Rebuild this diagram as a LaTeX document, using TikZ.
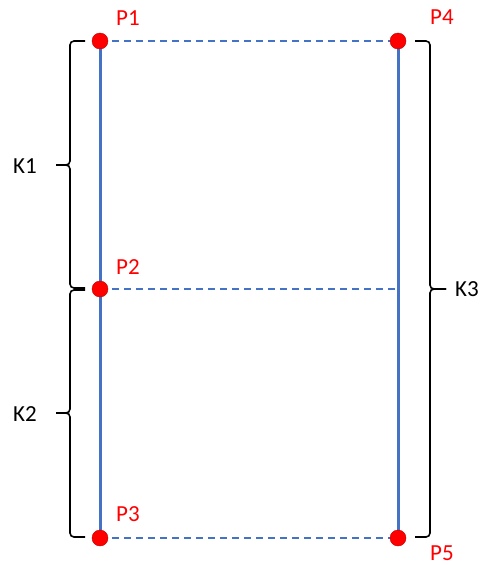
\documentclass[tikz,border=0pt]{standalone}
\usepackage{fontspec}
\setmainfont{Carlito}
\usetikzlibrary{backgrounds}

\definecolor{lineblue}{HTML}{4472C4}
\tikzset{
  dot/.style={circle, fill=red, draw=red!75!black, line width=0.4pt, minimum size=16pt, inner sep=0pt},
  ptlabel/.style={text=red, font=\fontsize{23}{27}\selectfont, inner sep=0pt},
  klabel/.style={text=black, font=\fontsize{23}{27}\selectfont, inner sep=0pt},
  solidline/.style={lineblue, line width=3pt},
  dashline/.style={lineblue, line width=1.5pt, dash pattern=on 7pt off 5pt},
  bracepart/.style={black, line width=1.6pt, rounded corners=4pt},
}

\begin{document}
\begin{tikzpicture}[x=1pt, y=-1pt]
  \useasboundingbox (0,0) rectangle (480,565);
  % points
  \node[dot] (P1) at (100,41) {};
  \node[dot] (P2) at (100,289) {};
  \node[dot] (P3) at (100,538) {};
  \node[dot] (P4) at (398,41) {};
  \node[dot] (P5) at (398,538) {};
  \coordinate (m) at (398,289);
  % point labels
  \node[ptlabel] at (128,18) {P1};
  \node[ptlabel] at (128,267) {P2};
  \node[ptlabel] at (128,514) {P3};
  \node[ptlabel] at (442,17) {P4};
  \node[ptlabel] at (442,553) {P5};
  \begin{pgfonlayer}{background}
    \draw[solidline] (P1.center) -- (P3.center);
    \draw[solidline] (P4.center) -- (P5.center);
    \draw[dashline] (P1.center) -- (P4.center);
    \draw[dashline] (P2.center) -- (m);
    \draw[dashline] (P3.center) -- (P5.center);
  \end{pgfonlayer}
  % braces
  \coordinate (k1) at (56,165);
  \coordinate (k2) at (56,413);
  \coordinate (k3) at (446,289);
  \draw[bracepart] (85,41) -| (70,165) -- (k1);
  \draw[bracepart] (85,288) -| (70,165) -- (k1);
  \draw[bracepart] (85,290) -| (70,413) -- (k2);
  \draw[bracepart] (85,537) -| (70,413) -- (k2);
  \draw[bracepart] (415,41) -| (430,289) -- (k3);
  \draw[bracepart] (415,537) -| (430,289) -- (k3);
  \node[klabel] (K1) at (25,166) {K1};
  \node[klabel] (K2) at (25,414) {K2};
  \node[klabel] (K3) at (467,289) {K3};
\end{tikzpicture}
\end{document}
